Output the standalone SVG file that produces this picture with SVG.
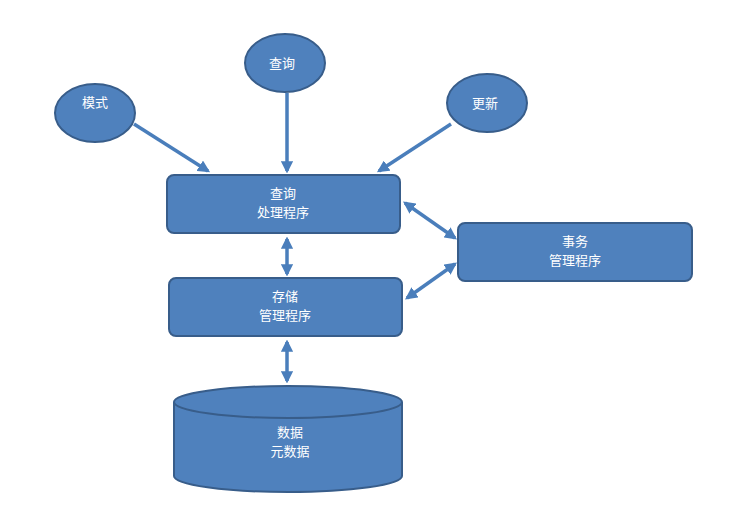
<svg xmlns="http://www.w3.org/2000/svg" width="729" height="514" viewBox="0 0 729 514">
<defs>
<style>
.n{fill:#4F81BD;stroke:#385D8A;stroke-width:2}
.t{fill:#fff;font-family:"Liberation Sans","Noto Sans CJK SC",sans-serif;font-size:13px;text-anchor:middle}
.c{stroke:#4A7EBB;stroke-width:3.5;fill:none}
</style>
<marker id="a" viewBox="0 0 10 10" refX="8" refY="5" markerWidth="3.5" markerHeight="3.5" orient="auto-start-reverse"><path d="M0,0L10,5L0,10z" fill="#4A7EBB"/></marker>
</defs>
<rect width="729" height="514" fill="#fff"/>
<g id="connectors">
<line class="c" x1="134" y1="124" x2="208" y2="171" marker-end="url(#a)"/>
<line class="c" x1="287" y1="93" x2="287" y2="171" marker-end="url(#a)"/>
<line class="c" x1="451" y1="124" x2="379" y2="171" marker-end="url(#a)"/>
<line class="c" x1="287" y1="239" x2="287" y2="274" marker-start="url(#a)" marker-end="url(#a)"/>
<line class="c" x1="405" y1="203" x2="455" y2="238" marker-start="url(#a)" marker-end="url(#a)"/>
<line class="c" x1="407" y1="298" x2="455" y2="264" marker-start="url(#a)" marker-end="url(#a)"/>
<line class="c" x1="287" y1="342" x2="287" y2="381" marker-start="url(#a)" marker-end="url(#a)"/>
</g>
<g id="moshi"><ellipse class="n" cx="95" cy="113" rx="40" ry="29"/><text class="t" x="95" y="107">模式</text></g>
<g id="chaxun"><ellipse class="n" cx="285" cy="63" rx="40" ry="29"/><text class="t" x="282" y="68">查询</text></g>
<g id="gengxin"><ellipse class="n" cx="487" cy="103" rx="40" ry="29"/><text class="t" x="485" y="108">更新</text></g>
<g id="query"><rect class="n" x="167" y="175" width="233" height="58" rx="7"/><text class="t" x="283" y="198">查询</text><text class="t" x="283" y="217">处理程序</text></g>
<g id="storage"><rect class="n" x="169" y="278" width="233" height="58" rx="7"/><text class="t" x="285" y="301">存储</text><text class="t" x="285" y="320">管理程序</text></g>
<g id="tx"><rect class="n" x="458" y="223" width="234" height="58" rx="7"/><text class="t" x="575" y="246">事务</text><text class="t" x="575" y="265">管理程序</text></g>
<g id="db">
<path class="n" d="M174,402 L174,476 A114,16 0 0 0 402,476 L402,402"/>
<ellipse class="n" cx="288" cy="402" rx="114" ry="16"/>
<text class="t" x="290" y="437">数据</text><text class="t" x="290" y="456">元数据</text>
</g>
</svg>
